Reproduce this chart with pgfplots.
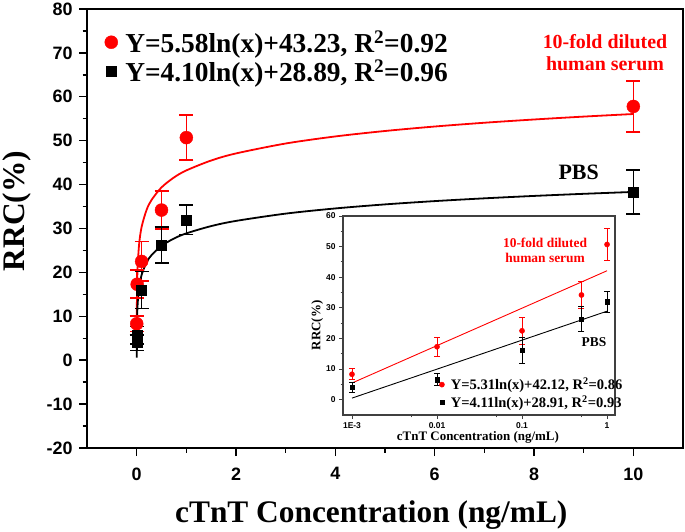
\documentclass[border=0pt]{standalone}
\usepackage{fontspec}
\setmainfont{Liberation Serif}
\newfontfamily\arialfont{Liberation Sans}
\usepackage{pgfplots}
\pgfplotsset{compat=1.18}
\begin{document}
\begin{tikzpicture}
\begin{axis}[
 at={(87bp,84bp)}, anchor=south west,
 scale only axis, width=596bp, height=439bp,
 xmin=-1, xmax=11, ymin=-20, ymax=80,
 xtick={0,2,...,10}, ytick={-20,-10,...,80},
 minor x tick num=1, minor y tick num=1,
 tick align=outside, tick pos=left,
 major tick length=8bp, minor tick length=4.5bp,
 axis line style={line width=1.6bp},
 every tick/.style={line width=1.4bp, black},
 tick label style={font=\arialfont\bfseries\fontsize{18}{18}\selectfont},
 xticklabel style={yshift=-8bp},
 yticklabel style={xshift=-3bp},
 /pgf/number format/assume math mode=true,
 xlabel={\rmfamily\bfseries cTnT Concentration (ng/mL)}, ylabel={\rmfamily\bfseries RRC(\%)},
 label style={font=\rmfamily\bfseries\fontsize{31.5}{31.5}\selectfont, inner sep=0pt},
 xlabel style={at={(axis description cs:0.477,-0.152)}, anchor=center},
 ylabel style={at={(axis description cs:-0.118,0.54)}, anchor=center},
 legend style={draw=none, fill=none, at={(axis description cs:0.027,0.958)}, anchor=north west,
   font=\bfseries\fontsize{27.5}{27.5}\selectfont, row sep=2bp, inner sep=1bp},
 legend image code/.code={\draw[#1] plot coordinates {(0bp,0bp)}; \path[draw=none,fill=none] (-7bp,0bp) -- (12bp,0bp);},
 legend cell align=left,
 clip=false,
]
% fit curves
\addplot[red, line width=1.8bp, smooth, forget plot] coordinates {
(0.001,4.68)(0.002,8.55)(0.005,13.67)(0.01,17.53)(0.02,21.40)(0.05,26.51)(0.1,30.38)(0.2,34.25)(0.3,36.51)(0.5,39.36)(0.75,41.62)(1,43.23)(1.5,45.49)(2,47.10)(3,49.36)(4,50.97)(5,52.21)(6,53.23)(7,54.09)(8,54.83)(9,55.49)(10,56.08)};
\addplot[black, line width=1.8bp, smooth, forget plot] coordinates {
(0.001,0.57)(0.002,3.41)(0.005,7.17)(0.01,10.01)(0.02,12.85)(0.05,16.61)(0.1,19.45)(0.2,22.29)(0.3,23.95)(0.5,26.05)(0.75,27.71)(1,28.89)(1.5,30.55)(2,31.73)(3,33.39)(4,34.57)(5,35.49)(6,36.24)(7,36.87)(8,37.42)(9,37.90)(10,38.33)};
% data
\addplot[red, only marks, mark=*, mark size=6.5bp,
  error bars/.cd, y dir=both, y explicit,
  error bar style={line width=1.6bp, red},
  error mark options={rotate=90, mark size=7bp, line width=1.6bp, red}]
 coordinates {
(0.001,8.3) +- (0,1.8)
(0.01,17.3) +- (0,3.2)
(0.1,22.5) +- (0,4.5)
(0.5,34.2) +- (0,4.3)
(1,50.7) +- (0,5.1)
(10,57.8) +- (0,5.8)};
\addlegendentry{Y=5.58ln(x)+43.23, R\textsuperscript{2}=0.92}
\addplot[black, only marks, mark=square*, mark size=5bp,
  error bars/.cd, y dir=both, y explicit,
  error bar style={line width=1.6bp, black},
  error mark options={rotate=90, mark size=7bp, line width=1.6bp, black}]
 coordinates {
(0.001,4.0) +- (0,1.8)
(0.01,5.7) +- (0,2.0)
(0.1,16.0) +- (0,4.2)
(0.5,26.2) +- (0,4.1)
(1,32.0) +- (0,3.4)
(10,38.3) +- (0,5.0)};
\addlegendentry{Y=4.10ln(x)+28.89, R\textsuperscript{2}=0.96}
\node[red, align=center, font=\bfseries\fontsize{20}{22}\selectfont] at (axis cs:9.43,70) {10-fold diluted\\human serum};
\node[black, font=\bfseries\fontsize{22}{22}\selectfont] at (axis cs:8.9,42.8) {PBS};
\end{axis}
% inset
\begin{axis}[
 at={(343bp,117bp)}, anchor=south west,
 scale only axis, width=272bp, height=199bp,
 xmode=log, xmin=7.84e-4, xmax=1.24, ymin=-5, ymax=60,
 xtick={0.001,0.01,0.1,1}, xticklabels={1E-3,0.01,0.1,1},
 minor xtick={0.005,0.05,0.5},
 ytick={0,10,...,60}, minor y tick num=1,
 tick align=outside, tick pos=left,
 major tick length=4bp, minor tick length=2.5bp,
 axis line style={line width=1.1bp, black!75},
 every tick/.style={line width=0.9bp, black!75},
 axis background/.style={fill=white},
 tick label style={font=\arialfont\bfseries\fontsize{8.5}{8.5}\selectfont},
 /pgf/number format/assume math mode=true,
 xlabel={\rmfamily\bfseries cTnT Concentration (ng/mL)}, ylabel={\rmfamily\bfseries RRC(\%)},
 label style={font=\rmfamily\bfseries\fontsize{13}{13}\selectfont},
 xlabel style={at={(axis description cs:0.496,-0.115)}, anchor=center},
 ylabel style={at={(axis description cs:-0.095,0.45)}, anchor=center},
 legend style={draw=none, fill=none, at={(axis description cs:0.35,0.20)}, anchor=north west,
   font=\bfseries\fontsize{14.6}{14.6}\selectfont, row sep=0bp, inner sep=0.5bp},
 legend image code/.code={\draw[#1] plot coordinates {(0bp,0bp)}; \path[draw=none,fill=none] (-3bp,0bp) -- (7bp,0bp);},
 legend cell align=left,
 clip=false,
]
\addplot[red, line width=0.9bp, forget plot] coordinates {(0.001,5.44)(0.01,17.67)(0.1,29.89)(1,42.12)};
\addplot[black, line width=0.9bp, forget plot] coordinates {(0.001,0.52)(0.01,9.98)(0.1,19.45)(1,28.91)};
\addplot[red, only marks, mark=*, mark size=2.6bp,
  error bars/.cd, y dir=both, y explicit,
  error bar style={line width=0.9bp, red},
  error mark options={rotate=90, mark size=3bp, line width=0.9bp, red}]
 coordinates {
(0.001,8.3) +- (0,1.8)
(0.01,17.3) +- (0,3.1)
(0.1,22.5) +- (0,4.5)
(0.5,34.2) +- (0,4.3)
(1,50.7) +- (0,5.1)};
\addlegendentry{Y=5.31ln(x)+42.12, R\textsuperscript{2}=0.86}
\addplot[black, only marks, mark=square*, mark size=2.2bp,
  error bars/.cd, y dir=both, y explicit,
  error bar style={line width=0.9bp, black},
  error mark options={rotate=90, mark size=3bp, line width=0.9bp, black}]
 coordinates {
(0.001,4.0) +- (0,1.7)
(0.01,6.5) +- (0,2.0)
(0.1,16.2) +- (0,4.2)
(0.5,26.3) +- (0,4.1)
(1,32.0) +- (0,3.4)};
\addlegendentry{Y=4.11ln(x)+28.91, R\textsuperscript{2}=0.93}
\node[red, align=center, font=\bfseries\fontsize{13.5}{15}\selectfont] at (axis description cs:0.743,0.829) {10-fold diluted\\human serum};
\node[black, font=\bfseries\fontsize{13.5}{13.5}\selectfont] at (axis description cs:0.923,0.367) {PBS};
\end{axis}
\pgfresetboundingbox
\path[use as bounding box] (0,0) rectangle (685bp,532bp);
\end{tikzpicture}
\end{document}
